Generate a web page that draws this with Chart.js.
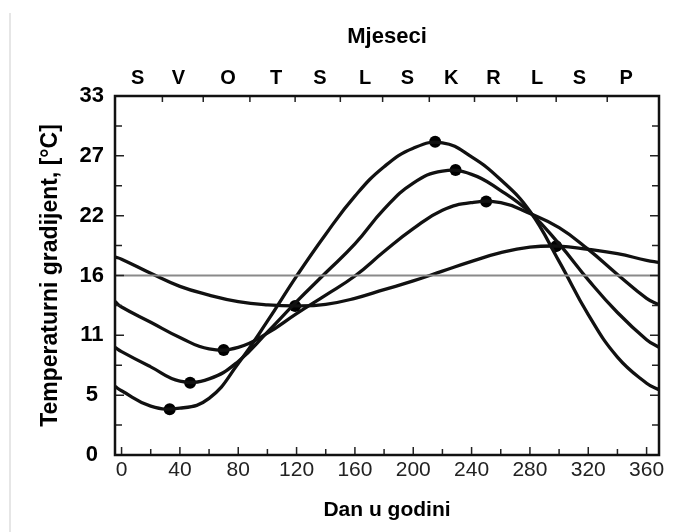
<!DOCTYPE html>
<html>
<head>
<meta charset="utf-8">
<script src="https://cdn.jsdelivr.net/npm/chart.js@4.4.0/dist/chart.umd.min.js"></script>
<style>
  body { margin: 0; background: #fff; }
  #wrap { position: relative; width: 678px; height: 532px; }
  #edge { position: absolute; left: 9px; top: 13px; bottom: 0; width: 2px; background: #e6e6e6; }
  canvas { position: absolute; left: 0; top: 0; }
</style>
</head>
<body>
<div id="wrap"><div id="edge"></div><canvas id="chart" width="678" height="532"></canvas></div>
<script>
// day of year (x) and the four curves
var days   = [-4.5, 0, 20, 40, 60, 80, 100, 120, 140, 160, 180, 200, 220, 240, 260, 280, 300, 320, 340, 360, 368.5];
var curveA = [6.3, 5.9, 4.5, 4.3, 5.2, 8.4, 12.3, 16.45, 20.3, 23.8, 26.5, 28.2, 28.7, 27.4, 25.3, 22.4, 17.8, 12.9, 9.0, 6.6, 6.0];
var curveB = [9.9, 9.5, 8.1, 6.8, 7.0, 8.6, 11.3, 14.1, 16.75, 19.4, 22.6, 25.0, 26.1, 25.8, 24.3, 22.3, 19.4, 16.1, 13.1, 10.6, 9.9];
var curveC = [14.1, 13.6, 12.2, 10.8, 9.75, 9.9, 11.2, 13.0, 14.7, 16.45, 18.7, 20.8, 22.5, 23.2, 23.2, 22.2, 20.9, 18.9, 16.6, 14.4, 13.8];
var curveD = [18.2, 18.0, 16.7, 15.5, 14.7, 14.1, 13.8, 13.7, 13.85, 14.4, 15.2, 16.0, 16.9, 17.8, 18.6, 19.1, 19.2, 18.9, 18.5, 17.9, 17.7];

// min / max dots
var markerDays  = [33, 215, 47, 229, 70, 250, 119, 298];
var markerTemps = [4.2, 28.8, 6.65, 26.2, 9.65, 23.3, 13.7, 19.2];

var meanTemp = 16.5;

var dayMin = -4.5, dayMax = 368.5;
var dayTicks = [0, 20, 40, 60, 80, 100, 120, 140, 160, 180, 200, 220, 240, 260, 280, 300, 320, 340, 360];

var yTickValues = [0, 5.5, 11, 16.5, 22, 27.5, 33];
var yTickLabels = ['0', '5', '11', '16', '22', '27', '33'];

var monthLabels  = ['S', 'V', 'O', 'T', 'S', 'L', 'S', 'K', 'R', 'L', 'S', 'P'];
var monthCenters = [11, 39, 73, 106, 136, 167, 196, 226, 255, 285, 314, 346];
var monthEdges   = [28, 56, 88, 119, 150, 179, 211, 242, 271, 298, 333];

var FONT = "'Liberation Sans', Arial, sans-serif";

function pts(xs, ys) {
  return xs.map(function (x, i) { return { x: x, y: ys[i] }; });
}

var yTicksAll = [];
yTickValues.forEach(function (v, i) {
  yTicksAll.push(v);
  if (i < yTickValues.length - 1) yTicksAll.push((v + yTickValues[i + 1]) / 2);
});

function curve(data) {
  return {
    data: pts(days, data),
    borderColor: '#111',
    borderWidth: 3.3,
    pointRadius: 0,
    tension: 0.45,
    fill: false
  };
}

// inward tick marks + frame
var frameTicks = {
  id: 'frameTicks',
  afterDatasetsDraw: function (chart) {
    var ctx = chart.ctx, a = chart.chartArea;
    var xs = chart.scales.x, ys = chart.scales.y, ts = chart.scales.xTop;
    ctx.save();
    ctx.strokeStyle = '#222';
    ctx.lineWidth = 1.5;
    ctx.beginPath();
    yTicksAll.forEach(function (v) {
      var y = ys.getPixelForValue(v);
      var len = yTickValues.indexOf(v) >= 0 ? 9 : 7;
      ctx.moveTo(a.left, y); ctx.lineTo(a.left + len, y);
      ctx.moveTo(a.right, y); ctx.lineTo(a.right - len, y);
    });
    dayTicks.forEach(function (v) {
      var x = xs.getPixelForValue(v);
      var len = v % 40 === 0 ? 8 : 6;
      ctx.moveTo(x, a.bottom); ctx.lineTo(x, a.bottom - len);
    });
    monthEdges.forEach(function (v) {
      var x = ts.getPixelForValue(v);
      ctx.moveTo(x, a.top); ctx.lineTo(x, a.top + 6);
    });
    ctx.stroke();
    ctx.lineWidth = 2.5;
    ctx.strokeStyle = '#111';
    ctx.strokeRect(a.left, a.top, a.right - a.left, a.bottom - a.top);
    ctx.restore();
  }
};

new Chart(document.getElementById('chart'), {
  type: 'line',
  data: {
    datasets: [
      {
        data: [{ x: dayMin, y: meanTemp }, { x: dayMax, y: meanTemp }],
        borderColor: '#8a8a8a',
        borderWidth: 2,
        pointRadius: 0
      },
      curve(curveA),
      curve(curveB),
      curve(curveC),
      curve(curveD),
      {
        data: pts(markerDays, markerTemps),
        showLine: false,
        pointRadius: 6,
        pointBackgroundColor: '#000',
        pointBorderColor: '#000',
        pointBorderWidth: 0
      }
    ]
  },
  options: {
    responsive: false,
    animation: false,
    devicePixelRatio: 1,
    layout: { padding: { left: 0, right: 19, top: 0, bottom: 0 } },
    plugins: { legend: { display: false }, tooltip: { enabled: false } },
    scales: {
      x: {
        type: 'linear',
        position: 'bottom',
        min: dayMin,
        max: dayMax,
        afterBuildTicks: function (s) { s.ticks = dayTicks.map(function (v) { return { value: v }; }); },
        afterFit: function (s) { s.height = 77; },
        grid: { display: false, drawTicks: false },
        border: { display: false },
        ticks: {
          autoSkip: false, maxRotation: 0, minRotation: 0, padding: 3,
          color: '#222',
          font: { family: FONT, size: 21 },
          callback: function (v) { return v % 40 === 0 ? String(v) : ''; }
        },
        title: {
          display: true, text: 'Dan u godini', color: '#000',
          font: { family: FONT, size: 21, weight: 'bold' },
          padding: { top: 0, bottom: 9 }
        }
      },
      xTop: {
        type: 'linear',
        position: 'top',
        min: dayMin,
        max: dayMax,
        afterBuildTicks: function (s) { s.ticks = monthCenters.map(function (v) { return { value: v }; }); },
        afterFit: function (s) { s.height = 96; },
        grid: { display: false, drawTicks: false },
        border: { display: false },
        ticks: {
          autoSkip: false, maxRotation: 0, minRotation: 0, padding: 6,
          color: '#000',
          font: { family: FONT, size: 20, weight: 'bold' },
          callback: function (v, i) { return monthLabels[i]; }
        },
        title: {
          display: true, text: 'Mjeseci', color: '#000',
          font: { family: FONT, size: 22, weight: 'bold' },
          padding: { top: 24, bottom: 0 }
        }
      },
      y: {
        type: 'linear',
        position: 'left',
        min: 0,
        max: 33,
        afterBuildTicks: function (s) { s.ticks = yTickValues.map(function (v) { return { value: v }; }); },
        afterFit: function (s) { s.width = 115; },
        grid: { display: false, drawTicks: false },
        border: { display: false },
        ticks: {
          autoSkip: false, padding: 11, crossAlign: 'center',
          color: '#000',
          font: { family: FONT, size: 22, weight: 'bold' },
          callback: function (v) {
            var i = yTickValues.indexOf(v);
            return i >= 0 ? yTickLabels[i] : '';
          }
        },
        title: {
          display: true, text: 'Temperaturni gradijent, [°C]', color: '#000',
          font: { family: FONT, size: 23, weight: 'bold' },
          padding: { top: 37, bottom: 0 }
        }
      }
    }
  },
  plugins: [frameTicks]
});
</script>
</body>
</html>
